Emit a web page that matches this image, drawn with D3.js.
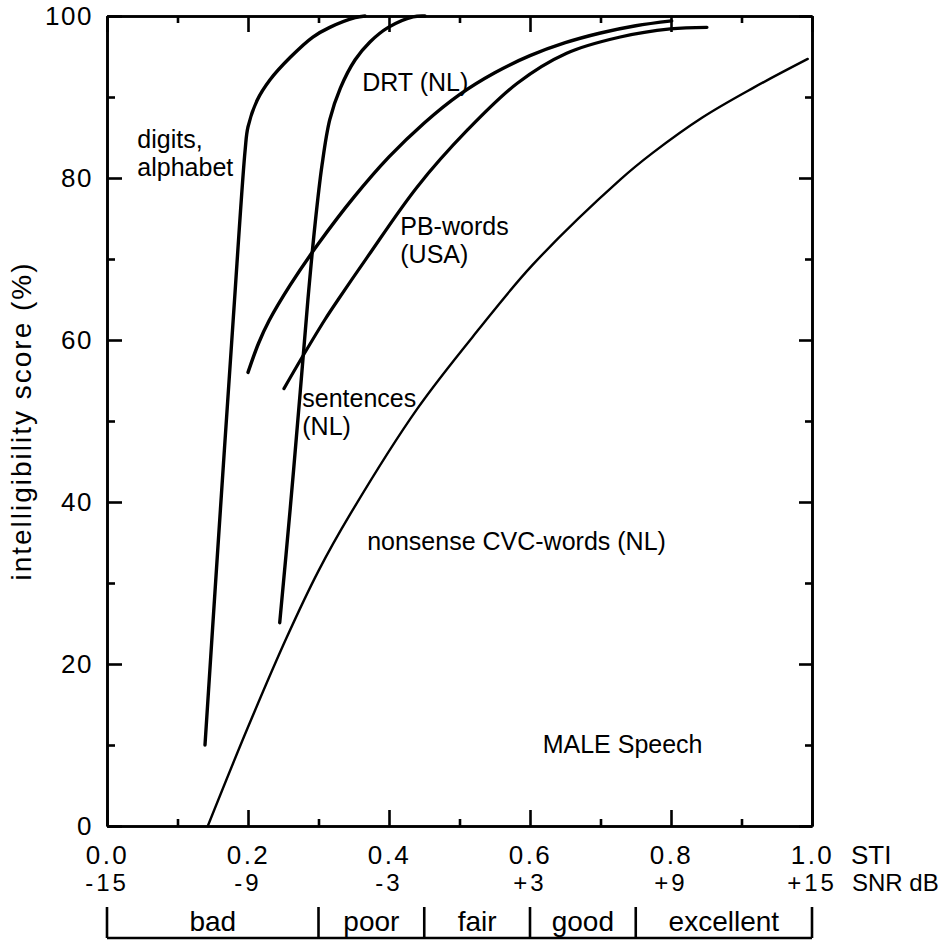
<!DOCTYPE html>
<html>
<head>
<meta charset="utf-8">
<script src="https://cdn.jsdelivr.net/npm/d3@7/dist/d3.min.js"></script>
<style>
  body { margin: 0; background: #fff; }
  svg { display: block; font-family: "Liberation Sans", Arial, Helvetica, sans-serif; }
</style>
</head>
<body>
<svg id="chart" width="946" height="941"></svg>
<script>
// curves: [STI, intelligibility %]
const digits = [[0.139, 10], [0.157, 34], [0.179, 62.5], [0.196, 83.5], [0.200, 86.3],
  [0.213, 89.6], [0.231, 92.1], [0.260, 94.9], [0.292, 97.4], [0.316, 98.6], [0.352, 99.8], [0.366, 100]];
const sentences = [[0.245, 25.1], [0.260, 39.3], [0.274, 53.5], [0.285, 65], [0.295, 74.2],
  [0.305, 81.6], [0.316, 87.2], [0.331, 91.1], [0.352, 94.6], [0.373, 96.8], [0.399, 98.6],
  [0.434, 99.9], [0.451, 100]];
const drt = [[0.200, 56], [0.215, 59.6], [0.230, 62.4], [0.260, 66.8], [0.300, 71.9], [0.350, 77.6],
  [0.400, 82.6], [0.450, 86.8], [0.500, 90.3], [0.550, 93.0], [0.600, 95.1], [0.650, 96.7],
  [0.700, 97.9], [0.750, 98.8], [0.801, 99.4]];
const pbWords = [[0.251, 54], [0.277, 57.9], [0.309, 62.5], [0.328, 65], [0.369, 70.2], [0.440, 78.9],
  [0.511, 85.9], [0.582, 91.7], [0.652, 95.4], [0.728, 97.4], [0.799, 98.4], [0.851, 98.6]];
const nonsenseCVC = [[0.143, 0], [0.199, 12], [0.255, 23.3], [0.30, 31.5], [0.345, 38.5], [0.44, 51.5],
  [0.529, 61.5], [0.604, 69.3], [0.728, 79.8], [0.774, 83.1], [0.845, 87.5], [0.916, 91.1], [0.994, 94.7]];

const stiTicks = [0, 0.2, 0.4, 0.6, 0.8, 1.0];
const stiLabels = ["0.0", "0.2", "0.4", "0.6", "0.8", "1.0"];
const snrLabels = ["-15", "-9", "-3", "+3", "+9", "+15"];
const scoreTicks = [0, 20, 40, 60, 80, 100];

const ratingBounds = [0, 0.3, 0.45, 0.6, 0.75, 1.0];
const ratingNames = ["bad", "poor", "fair", "good", "excellent"];

// annotations in data units
const notes = [
  { at: [0.043, 83.7], lines: ["digits,", "alphabet"] },
  { at: [0.362, 90.7], lines: ["DRT (NL)"] },
  { at: [0.416, 73.0], lines: ["PB-words", "(USA)"] },
  { at: [0.277, 51.7], lines: ["sentences", "(NL)"] },
  { at: [0.369, 34.1], lines: ["nonsense CVC-words (NL)"] },
  { at: [0.618, 9.0], lines: ["MALE Speech"] }
];

const svg = d3.select("#chart");
const plotLeft = 107, plotRight = 812, plotTop = 16, plotBottom = 826;

const x = d3.scaleLinear().domain([0, 1]).range([plotLeft, plotRight]);
const y = d3.scaleLinear().domain([0, 100]).range([plotBottom, plotTop]);

const minorX = [0.1, 0.3, 0.5, 0.7, 0.9];
const minorY = [10, 30, 50, 70, 90];
const axisW = 2.6;

function styleAxis(g) {
  g.selectAll("path.domain").attr("stroke", "#000").attr("stroke-width", axisW);
  g.selectAll(".tick line").attr("stroke", "#000").attr("stroke-width", axisW);
  g.selectAll(".tick text").attr("fill", "#000");
}

// bottom
svg.append("g").attr("transform", `translate(0,${plotBottom})`)
  .call(d3.axisBottom(x).tickValues(stiTicks).tickSizeInner(-16).tickSizeOuter(0)
    .tickPadding(20).tickFormat((d, i) => stiLabels[i]))
  .call(g => g.selectAll(".tick text").attr("font-size", 26).attr("letter-spacing", "2.5px"))
  .call(styleAxis);
svg.append("g").attr("transform", `translate(0,${plotBottom})`)
  .call(d3.axisBottom(x).tickValues(minorX).tickSizeInner(-7).tickSizeOuter(0).tickFormat(""))
  .call(styleAxis);

// top
svg.append("g").attr("transform", `translate(0,${plotTop})`)
  .call(d3.axisTop(x).tickValues(stiTicks).tickSizeInner(-16).tickSizeOuter(0).tickFormat(""))
  .call(styleAxis);
svg.append("g").attr("transform", `translate(0,${plotTop})`)
  .call(d3.axisTop(x).tickValues(minorX).tickSizeInner(-7).tickSizeOuter(0).tickFormat(""))
  .call(styleAxis);

// left
svg.append("g").attr("transform", `translate(${plotLeft},0)`)
  .call(d3.axisLeft(y).tickValues(scoreTicks).tickSizeInner(-15).tickSizeOuter(0).tickPadding(14))
  .call(g => g.selectAll(".tick text").attr("font-size", 26).attr("letter-spacing", "1.5px"))
  .call(styleAxis);
svg.append("g").attr("transform", `translate(${plotLeft},0)`)
  .call(d3.axisLeft(y).tickValues(minorY).tickSizeInner(-8).tickSizeOuter(0).tickFormat(""))
  .call(styleAxis);

// right
svg.append("g").attr("transform", `translate(${plotRight},0)`)
  .call(d3.axisRight(y).tickValues(scoreTicks).tickSizeInner(-13).tickSizeOuter(0).tickFormat(""))
  .call(styleAxis);
svg.append("g").attr("transform", `translate(${plotRight},0)`)
  .call(d3.axisRight(y).tickValues(minorY).tickSizeInner(-7).tickSizeOuter(0).tickFormat(""))
  .call(styleAxis);

// axis captions
svg.append("text").attr("x", x(1) + 39).attr("y", 864)
  .attr("font-size", 26).text("STI");
svg.append("g").selectAll("text").data(snrLabels).join("text")
  .attr("x", (d, i) => x(stiTicks[i])).attr("y", 891)
  .attr("text-anchor", "middle").attr("font-size", 24).attr("letter-spacing", "3px")
  .text(d => d);
svg.append("text").attr("x", x(1) + 40).attr("y", 891)
  .attr("font-size", 24).text("SNR dB");

svg.append("text")
  .attr("transform", `translate(31,${(plotTop + plotBottom) / 2}) rotate(-90)`)
  .attr("text-anchor", "middle").attr("font-size", 28).attr("letter-spacing", "2px")
  .text("intelligibility score (%)");

// rating scale
const rating = svg.append("g");
rating.selectAll("line.sep").data(ratingBounds).join("line")
  .attr("class", "sep")
  .attr("x1", d => x(d)).attr("x2", d => x(d))
  .attr("y1", 907).attr("y2", 938)
  .attr("stroke", "#000").attr("stroke-width", axisW);
rating.append("line")
  .attr("x1", x(0)).attr("x2", x(1)).attr("y1", 938).attr("y2", 938)
  .attr("stroke", "#000").attr("stroke-width", axisW);
rating.selectAll("text").data(ratingNames).join("text")
  .attr("x", (d, i) => x((ratingBounds[i] + ratingBounds[i + 1]) / 2))
  .attr("y", 931).attr("text-anchor", "middle").attr("font-size", 28)
  .text(d => d);

// curves
const line = d3.line().x(d => x(d[0])).y(d => y(d[1])).curve(d3.curveCatmullRom.alpha(0.5));
const curves = [
  { data: digits, w: 3.4 },
  { data: sentences, w: 3.4 },
  { data: drt, w: 3.4 },
  { data: pbWords, w: 3.2 },
  { data: nonsenseCVC, w: 2.4 }
];
svg.append("g").selectAll("path").data(curves).join("path")
  .attr("d", d => line(d.data))
  .attr("fill", "none").attr("stroke", "#000")
  .attr("stroke-width", d => d.w).attr("stroke-linecap", "round");

// labels
const labels = svg.append("g").attr("font-size", 25);
notes.forEach(n => {
  const t = labels.append("text").attr("x", x(n.at[0])).attr("y", y(n.at[1]));
  n.lines.forEach((s, i) => {
    t.append("tspan").attr("x", x(n.at[0])).attr("dy", i ? 28 : 0).text(s);
  });
});
</script>
</body>
</html>
